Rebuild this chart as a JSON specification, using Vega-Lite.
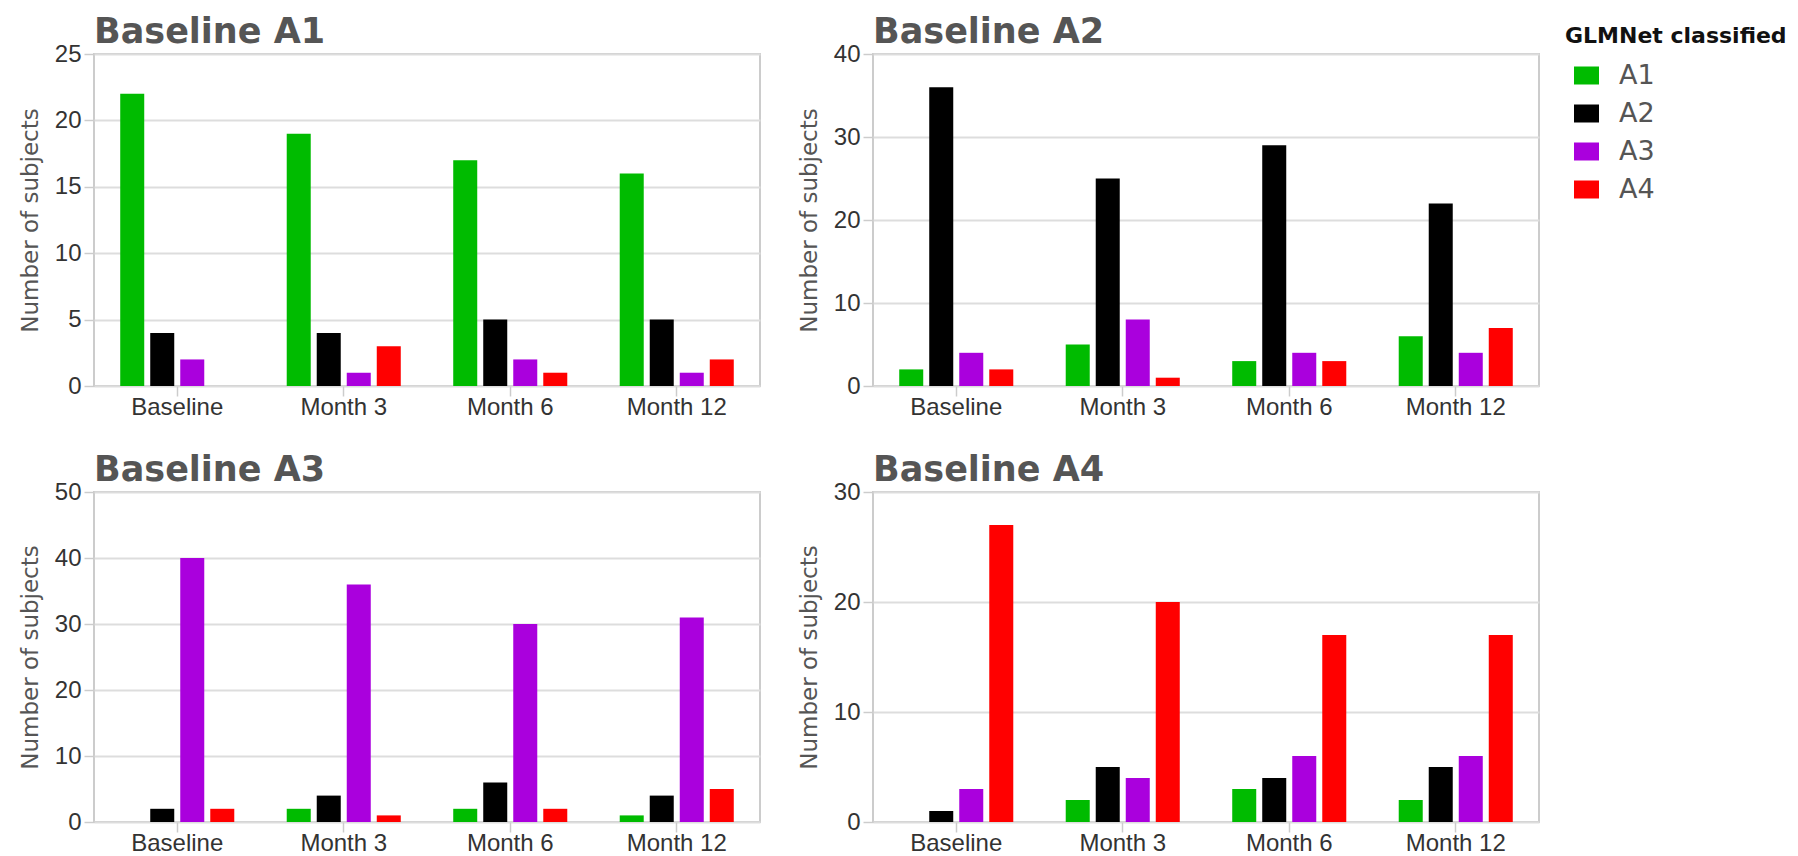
{
  "$schema": "https://vega.github.io/schema/vega-lite/v6.json",
  "background": "white",
  "autosize": {"type": "pad"},
  "padding": {"left": 18, "top": 14, "right": 0, "bottom": 0},
  "data": {"values": [
    {"panel": "A1", "time": "Baseline", "class": "A1", "count": 22},
    {"panel": "A1", "time": "Baseline", "class": "A2", "count": 4},
    {"panel": "A1", "time": "Baseline", "class": "A3", "count": 2},
    {"panel": "A1", "time": "Baseline", "class": "A4", "count": 0},
    {"panel": "A1", "time": "Month 3", "class": "A1", "count": 19},
    {"panel": "A1", "time": "Month 3", "class": "A2", "count": 4},
    {"panel": "A1", "time": "Month 3", "class": "A3", "count": 1},
    {"panel": "A1", "time": "Month 3", "class": "A4", "count": 3},
    {"panel": "A1", "time": "Month 6", "class": "A1", "count": 17},
    {"panel": "A1", "time": "Month 6", "class": "A2", "count": 5},
    {"panel": "A1", "time": "Month 6", "class": "A3", "count": 2},
    {"panel": "A1", "time": "Month 6", "class": "A4", "count": 1},
    {"panel": "A1", "time": "Month 12", "class": "A1", "count": 16},
    {"panel": "A1", "time": "Month 12", "class": "A2", "count": 5},
    {"panel": "A1", "time": "Month 12", "class": "A3", "count": 1},
    {"panel": "A1", "time": "Month 12", "class": "A4", "count": 2},
    {"panel": "A2", "time": "Baseline", "class": "A1", "count": 2},
    {"panel": "A2", "time": "Baseline", "class": "A2", "count": 36},
    {"panel": "A2", "time": "Baseline", "class": "A3", "count": 4},
    {"panel": "A2", "time": "Baseline", "class": "A4", "count": 2},
    {"panel": "A2", "time": "Month 3", "class": "A1", "count": 5},
    {"panel": "A2", "time": "Month 3", "class": "A2", "count": 25},
    {"panel": "A2", "time": "Month 3", "class": "A3", "count": 8},
    {"panel": "A2", "time": "Month 3", "class": "A4", "count": 1},
    {"panel": "A2", "time": "Month 6", "class": "A1", "count": 3},
    {"panel": "A2", "time": "Month 6", "class": "A2", "count": 29},
    {"panel": "A2", "time": "Month 6", "class": "A3", "count": 4},
    {"panel": "A2", "time": "Month 6", "class": "A4", "count": 3},
    {"panel": "A2", "time": "Month 12", "class": "A1", "count": 6},
    {"panel": "A2", "time": "Month 12", "class": "A2", "count": 22},
    {"panel": "A2", "time": "Month 12", "class": "A3", "count": 4},
    {"panel": "A2", "time": "Month 12", "class": "A4", "count": 7},
    {"panel": "A3", "time": "Baseline", "class": "A1", "count": 0},
    {"panel": "A3", "time": "Baseline", "class": "A2", "count": 2},
    {"panel": "A3", "time": "Baseline", "class": "A3", "count": 40},
    {"panel": "A3", "time": "Baseline", "class": "A4", "count": 2},
    {"panel": "A3", "time": "Month 3", "class": "A1", "count": 2},
    {"panel": "A3", "time": "Month 3", "class": "A2", "count": 4},
    {"panel": "A3", "time": "Month 3", "class": "A3", "count": 36},
    {"panel": "A3", "time": "Month 3", "class": "A4", "count": 1},
    {"panel": "A3", "time": "Month 6", "class": "A1", "count": 2},
    {"panel": "A3", "time": "Month 6", "class": "A2", "count": 6},
    {"panel": "A3", "time": "Month 6", "class": "A3", "count": 30},
    {"panel": "A3", "time": "Month 6", "class": "A4", "count": 2},
    {"panel": "A3", "time": "Month 12", "class": "A1", "count": 1},
    {"panel": "A3", "time": "Month 12", "class": "A2", "count": 4},
    {"panel": "A3", "time": "Month 12", "class": "A3", "count": 31},
    {"panel": "A3", "time": "Month 12", "class": "A4", "count": 5},
    {"panel": "A4", "time": "Baseline", "class": "A1", "count": 0},
    {"panel": "A4", "time": "Baseline", "class": "A2", "count": 1},
    {"panel": "A4", "time": "Baseline", "class": "A3", "count": 3},
    {"panel": "A4", "time": "Baseline", "class": "A4", "count": 27},
    {"panel": "A4", "time": "Month 3", "class": "A1", "count": 2},
    {"panel": "A4", "time": "Month 3", "class": "A2", "count": 5},
    {"panel": "A4", "time": "Month 3", "class": "A3", "count": 4},
    {"panel": "A4", "time": "Month 3", "class": "A4", "count": 20},
    {"panel": "A4", "time": "Month 6", "class": "A1", "count": 3},
    {"panel": "A4", "time": "Month 6", "class": "A2", "count": 4},
    {"panel": "A4", "time": "Month 6", "class": "A3", "count": 6},
    {"panel": "A4", "time": "Month 6", "class": "A4", "count": 17},
    {"panel": "A4", "time": "Month 12", "class": "A1", "count": 2},
    {"panel": "A4", "time": "Month 12", "class": "A2", "count": 5},
    {"panel": "A4", "time": "Month 12", "class": "A3", "count": 6},
    {"panel": "A4", "time": "Month 12", "class": "A4", "count": 17}
  ]},
  "columns": 2,
  "spacing": {"row": 106, "column": 113},
  "bounds": "flush",
  "concat": [
    {
      "title": "Baseline A1",
      "width": 666, "height": 332,
      "transform": [{"filter": "datum.panel === 'A1'"}],
      "mark": {"type": "bar"},
      "encoding": {
        "x": {"field": "time", "type": "nominal", "sort": ["Baseline", "Month 3", "Month 6", "Month 12"], "scale": {"paddingInner": 0.315, "paddingOuter": 0.1575}, "axis": {"title": null}},
        "xOffset": {"field": "class", "type": "nominal", "sort": ["A1", "A2", "A3", "A4"], "scale": {"paddingInner": 0.2, "paddingOuter": 0}},
        "y": {"field": "count", "type": "quantitative", "scale": {"domain": [0, 25], "nice": false}, "axis": {"title": "Number of subjects", "values": [0, 5, 10, 15, 20, 25]}},
        "color": {"field": "class", "type": "nominal", "scale": {"domain": ["A1", "A2", "A3", "A4"], "range": ["#00bb00", "#000000", "#aa00dd", "#ff0000"]}, "legend": {"title": "GLMNet classified"}}
      }
    },
    {
      "title": "Baseline A2",
      "width": 666, "height": 332,
      "transform": [{"filter": "datum.panel === 'A2'"}],
      "mark": {"type": "bar"},
      "encoding": {
        "x": {"field": "time", "type": "nominal", "sort": ["Baseline", "Month 3", "Month 6", "Month 12"], "scale": {"paddingInner": 0.315, "paddingOuter": 0.1575}, "axis": {"title": null}},
        "xOffset": {"field": "class", "type": "nominal", "sort": ["A1", "A2", "A3", "A4"], "scale": {"paddingInner": 0.2, "paddingOuter": 0}},
        "y": {"field": "count", "type": "quantitative", "scale": {"domain": [0, 40], "nice": false}, "axis": {"title": "Number of subjects", "values": [0, 10, 20, 30, 40]}},
        "color": {"field": "class", "type": "nominal", "scale": {"domain": ["A1", "A2", "A3", "A4"], "range": ["#00bb00", "#000000", "#aa00dd", "#ff0000"]}, "legend": {"title": "GLMNet classified"}}
      }
    },
    {
      "title": "Baseline A3",
      "width": 666, "height": 330,
      "transform": [{"filter": "datum.panel === 'A3'"}],
      "mark": {"type": "bar"},
      "encoding": {
        "x": {"field": "time", "type": "nominal", "sort": ["Baseline", "Month 3", "Month 6", "Month 12"], "scale": {"paddingInner": 0.315, "paddingOuter": 0.1575}, "axis": {"title": null}},
        "xOffset": {"field": "class", "type": "nominal", "sort": ["A1", "A2", "A3", "A4"], "scale": {"paddingInner": 0.2, "paddingOuter": 0}},
        "y": {"field": "count", "type": "quantitative", "scale": {"domain": [0, 50], "nice": false}, "axis": {"title": "Number of subjects", "values": [0, 10, 20, 30, 40, 50]}},
        "color": {"field": "class", "type": "nominal", "scale": {"domain": ["A1", "A2", "A3", "A4"], "range": ["#00bb00", "#000000", "#aa00dd", "#ff0000"]}, "legend": {"title": "GLMNet classified"}}
      }
    },
    {
      "title": "Baseline A4",
      "width": 666, "height": 330,
      "transform": [{"filter": "datum.panel === 'A4'"}],
      "mark": {"type": "bar"},
      "encoding": {
        "x": {"field": "time", "type": "nominal", "sort": ["Baseline", "Month 3", "Month 6", "Month 12"], "scale": {"paddingInner": 0.315, "paddingOuter": 0.1575}, "axis": {"title": null}},
        "xOffset": {"field": "class", "type": "nominal", "sort": ["A1", "A2", "A3", "A4"], "scale": {"paddingInner": 0.2, "paddingOuter": 0}},
        "y": {"field": "count", "type": "quantitative", "scale": {"domain": [0, 30], "nice": false}, "axis": {"title": "Number of subjects", "values": [0, 10, 20, 30]}},
        "color": {"field": "class", "type": "nominal", "scale": {"domain": ["A1", "A2", "A3", "A4"], "range": ["#00bb00", "#000000", "#aa00dd", "#ff0000"]}, "legend": {"title": "GLMNet classified"}}
      }
    }
  ],
  "config": {
    "view": {"stroke": "#cccccc", "strokeWidth": 2},
    "title": {"anchor": "start", "frame": "group", "font": "DejaVu Sans", "fontSize": 35, "fontWeight": "bold", "color": "#555555", "offset": -8},
    "axis": {
      "labelFont": "Liberation Sans", "labelFontSize": 24, "labelColor": "#333333",
      "titleFont": "DejaVu Sans", "titleFontSize": 23, "titleFontWeight": "normal", "titleColor": "#555555",
      "tickColor": "#cccccc", "tickSize": 10, "tickWidth": 1.5,
      "gridColor": "#dddddd", "gridWidth": 2,
      "domain": false
    },
    "axisX": {"labelAngle": 0, "labelPadding": -1, "grid": false},
    "axisY": {"labelPadding": 3, "titlePadding": 12, "grid": true},
    "legend": {
      "orient": "none", "legendX": 1471, "legendY": -28,
      "titleFont": "DejaVu Sans", "titleFontSize": 22, "titleFontWeight": "bold", "titleColor": "#111111", "titlePadding": 14, "titleLimit": 400,
      "labelFont": "DejaVu Sans", "labelFontSize": 27, "labelColor": "#555555", "labelOffset": 19, "labelLimit": 300,
      "symbolType": "M-1,-0.72H1V0.72H-1Z", "symbolSize": 625, "symbolStrokeWidth": 0, "symbolOpacity": 1, "symbolOffset": 8,
      "rowPadding": 10
    }
  }
}
